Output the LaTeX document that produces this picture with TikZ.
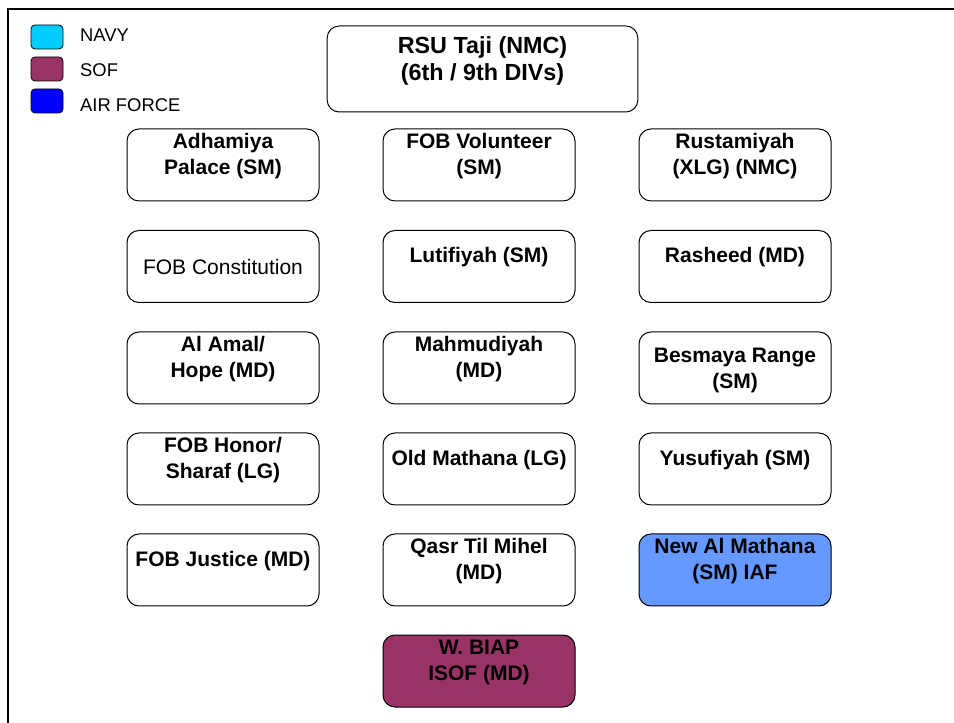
\documentclass[tikz,border=0pt]{standalone}
\usepackage{fontspec}
\setmainfont{Liberation Sans}
\usepackage{tikz}
\definecolor{navy}{RGB}{0,204,255}
\definecolor{sof}{RGB}{153,51,102}
\definecolor{airforce}{RGB}{0,0,255}
\definecolor{iaf}{RGB}{102,153,255}

\begin{document}
\begin{tikzpicture}[x=0.75pt,y=-0.75pt,
    site/.style={draw,rounded corners=9pt,line width=0.75pt,minimum width=144pt,minimum height=54pt},
    key/.style={draw,rounded corners=3pt,line width=0.6pt,minimum width=24pt,minimum height=18pt},
    keytext/.style={anchor=west,font=\fontsize{13.8}{16}\selectfont},
    lbl/.style={align=center,font=\fontsize{15.75}{19.5}\selectfont\bfseries},
    two/.style={lbl,yshift=6.5pt},
    one/.style={lbl,yshift=7pt}]
    \useasboundingbox (0,0) rectangle (954,723);
    \draw[line width=1.5pt] (954,9.5) -- (7.5,9.5) -- (7.5,723);
    % legend
    \node[key,fill=navy] (navy) at (47,37) {};
    \node[keytext] (navy-t) at (75.5,35.5) {NAVY};
    \node[key,fill=sof] (sof) at (47,69) {};
    \node[keytext] (sof-t) at (75.5,70) {SOF};
    \node[key,fill=airforce] (airforce) at (47,101) {};
    \node[keytext] (airforce-t) at (75.5,105) {AIR FORCE};
    % top
    \node[site,minimum width=233pt,minimum height=64.5pt] (taji) at (482.5,69) {};
    \node[lbl,yshift=6.25pt,font=\fontsize{17.5}{20.5}\selectfont\bfseries] (taji-t) at (taji) {RSU Taji (NMC)\\(6th / 9th DIVs)};
    % left column
    \node[site] (adhamiya) at (223,165) {};
    \node[two] (adhamiya-t) at (adhamiya) {Adhamiya\\Palace (SM)};
    \node[site] (constitution) at (223,266.5) {};
    \node[lbl,font=\fontsize{15.75}{19.5}\selectfont] (constitution-t) at (constitution) {FOB Constitution};
    \node[site] (amal) at (223,368) {};
    \node[two] (amal-t) at (amal) {Al Amal/\\Hope (MD)};
    \node[site] (honor) at (223,469) {};
    \node[two] (honor-t) at (honor) {FOB Honor/\\Sharaf (LG)};
    \node[site] (justice) at (223,570) {};
    \node[one] (justice-t) at (justice) {FOB Justice (MD)};
    % middle column
    \node[site] (volunteer) at (479,165) {};
    \node[two] (volunteer-t) at (volunteer) {FOB Volunteer\\(SM)};
    \node[site] (lutifiyah) at (479,266.5) {};
    \node[one] (lutifiyah-t) at (lutifiyah) {Lutifiyah (SM)};
    \node[site] (mahmudiyah) at (479,368) {};
    \node[two] (mahmudiyah-t) at (mahmudiyah) {Mahmudiyah\\(MD)};
    \node[site] (oldmathana) at (479,469) {};
    \node[one] (oldmathana-t) at (oldmathana) {Old Mathana (LG)};
    \node[site] (qasr) at (479,570) {};
    \node[two] (qasr-t) at (qasr) {Qasr Til Mihel\\(MD)};
    \node[site,fill=sof] (biap) at (479,671) {};
    \node[two] (biap-t) at (biap) {W. BIAP\\ISOF (MD)};
    % right column
    \node[site] (rustamiyah) at (735,165) {};
    \node[two] (rustamiyah-t) at (rustamiyah) {Rustamiyah\\(XLG) (NMC)};
    \node[site] (rasheed) at (735,266.5) {};
    \node[one] (rasheed-t) at (rasheed) {Rasheed (MD)};
    \node[site] (besmaya) at (735,368) {};
    \node[lbl,yshift=-1.5pt] (besmaya-t) at (besmaya) {Besmaya Range\\(SM)};
    \node[site] (yusufiyah) at (735,469) {};
    \node[one] (yusufiyah-t) at (yusufiyah) {Yusufiyah (SM)};
    \node[site,fill=iaf] (newmathana) at (735,570) {};
    \node[two] (newmathana-t) at (newmathana) {New Al Mathana\\(SM) IAF};
\end{tikzpicture}
\end{document}
